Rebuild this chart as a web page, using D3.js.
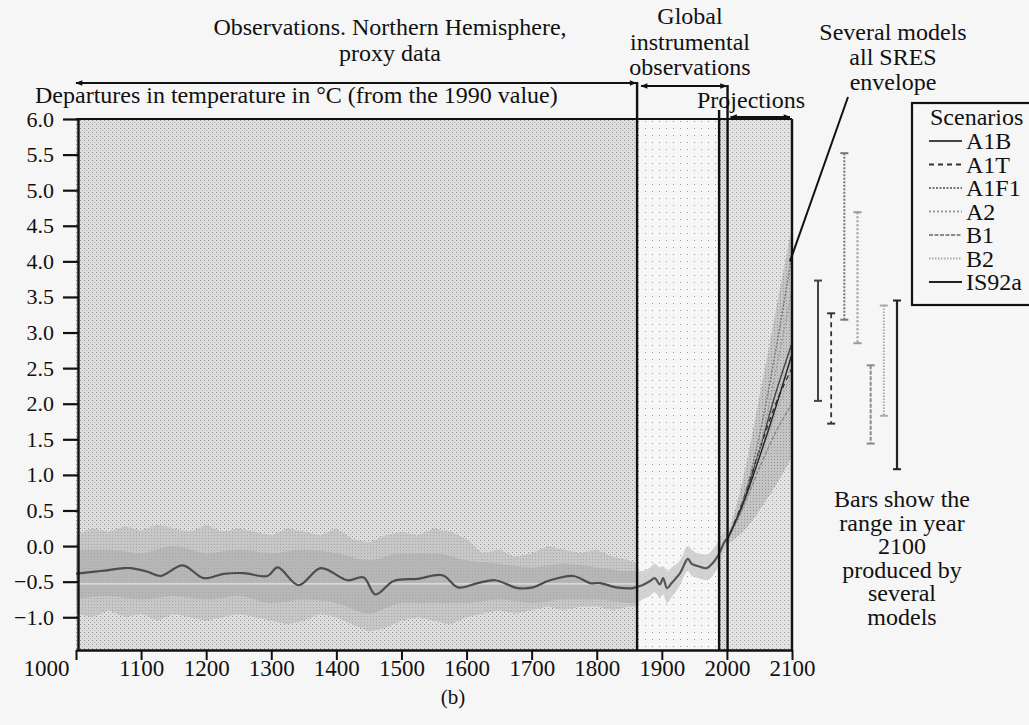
<!DOCTYPE html>
<html><head><meta charset="utf-8">
<script src="https://cdn.jsdelivr.net/npm/d3@7"></script>
<style>
body{margin:0;background:#f6f6f6;}
svg{display:block;font-family:"Liberation Serif","Times New Roman",serif;}
</style></head><body>
<svg id="c" width="1029" height="725"></svg>
<script>
// ---------------- DATA ----------------
const xTicks = [1000,1100,1200,1300,1400,1500,1600,1700,1800,1900,2000,2100];
const yTicks = [-1.0,-0.5,0.0,0.5,1.0,1.5,2.0,2.5,3.0,3.5,4.0,4.5,5.0,5.5,6.0];

// smoothed proxy reconstruction (Northern Hemisphere)
const proxyYears  = [1000,1008,1038,1074,1084,1110,1130,1164,1196,1227,1258,1294,1310,1342,1376,1417,1442,1460,1488,1525,1563,1587,1617,1644,1678,1702,1725,1764,1790,1805,1830,1856,1862];
const proxyValues = [-0.39,-0.38,-0.35,-0.31,-0.31,-0.36,-0.42,-0.27,-0.45,-0.39,-0.38,-0.42,-0.30,-0.55,-0.31,-0.48,-0.44,-0.68,-0.49,-0.46,-0.41,-0.58,-0.52,-0.48,-0.59,-0.58,-0.49,-0.42,-0.52,-0.52,-0.58,-0.59,-0.57];

// proxy annual-variability / uncertainty envelope
const bandYears = [1000,1025,1050,1075,1100,1125,1150,1175,1200,1225,1250,1275,1300,1325,1350,1375,1400,1425,1450,1475,1500,1525,1550,1575,1600,1625,1650,1675,1700,1725,1750,1775,1800,1825,1850,1862];
const bandHi    = [0.15,0.25,0.2,0.28,0.22,0.3,0.25,0.2,0.3,0.2,0.25,0.2,0.15,0.25,0.2,0.15,0.25,0.1,0.05,0.15,0.2,0.15,0.25,0.2,0.1,-0.1,-0.05,-0.15,-0.1,0.0,-0.05,-0.1,-0.05,-0.15,-0.2,-0.25];
const bandLo    = [-0.95,-1.0,-0.9,-1.0,-0.95,-1.05,-0.95,-1.0,-1.05,-1.0,-0.95,-1.0,-1.05,-1.1,-1.05,-0.95,-1.0,-1.1,-1.2,-1.15,-1.05,-1.0,-1.05,-1.1,-1.0,-0.95,-0.9,-0.95,-0.9,-0.85,-0.9,-0.85,-0.85,-0.9,-0.85,-0.85];
const coreYears = [1000,1050,1100,1150,1200,1250,1300,1350,1400,1450,1500,1550,1600,1650,1700,1750,1800,1850,1862];
const coreHi    = [-0.05,-0.05,-0.1,0.0,-0.1,-0.05,-0.1,-0.05,-0.1,-0.2,-0.1,-0.1,-0.2,-0.25,-0.3,-0.25,-0.3,-0.35,-0.35];
const coreLo    = [-0.75,-0.7,-0.75,-0.7,-0.75,-0.7,-0.8,-0.75,-0.8,-0.95,-0.8,-0.8,-0.8,-0.75,-0.8,-0.75,-0.75,-0.8,-0.8];

// global instrumental observations
const instYears  = [1862,1870,1882,1889,1897,1902,1908,1915,1928,1940,1946,1955,1969,1978,1986,1997,2000];
const instValues = [-0.57,-0.55,-0.49,-0.45,-0.54,-0.45,-0.59,-0.52,-0.38,-0.18,-0.25,-0.28,-0.31,-0.24,-0.14,0.07,0.1];
const instHi     = [-0.35,-0.35,-0.3,-0.25,-0.3,-0.28,-0.35,-0.3,-0.2,0.0,-0.05,-0.1,-0.12,-0.05,0.05,0.2,0.22];
const instLo     = [-0.8,-0.75,-0.7,-0.65,-0.72,-0.68,-0.8,-0.72,-0.55,-0.35,-0.42,-0.45,-0.48,-0.42,-0.3,-0.05,0.0];

// projections
const projYears = [2000,2025,2050,2075,2100];
const envHi     = [0.12,0.95,2.1,3.3,4.5];
const envLo     = [0.02,0.2,0.5,0.85,1.25];
const scenarios = ["A1B","A1T","A1F1","A2","B1","B2","IS92a"];
const projA1B   = [0.08,0.62,1.35,2.15,2.85];
const projA1T   = [0.08,0.65,1.35,2.0,2.5];
const projA1F1  = [0.08,0.65,1.55,2.75,4.1];
const projA2    = [0.08,0.55,1.35,2.45,3.6];
const projB1    = [0.08,0.55,1.1,1.6,2.0];
const projB2    = [0.08,0.6,1.2,1.85,2.45];
const projIS92a = [0.08,0.6,1.25,1.95,2.7];
const rangeLo   = [2.04,1.72,3.18,2.85,1.44,1.83,1.08];
const rangeHi   = [3.73,3.27,5.52,4.69,2.54,3.38,3.45];

// period boundaries (years)
const periodBounds = [1862,1988,2001];

// ---------------- STYLES ----------------
const scenStyle = {
  "A1B":  {stroke:"#444", dash:null,  w:2},
  "A1T":  {stroke:"#333", dash:"5,4", w:1.8},
  "A1F1": {stroke:"#777", dash:"2,1.5", w:2},
  "A2":   {stroke:"#999", dash:"2,2", w:2},
  "B1":   {stroke:"#8a8a8a", dash:"4,1.5", w:2},
  "B2":   {stroke:"#aaa", dash:"1.5,1.5", w:2},
  "IS92a":{stroke:"#222", dash:null,  w:2.2}
};
const projSeries = {A1B:projA1B,A1T:projA1T,A1F1:projA1F1,A2:projA2,B1:projB1,B2:projB2,IS92a:projIS92a};

// ---------------- SCALES ----------------
const svg = d3.select("#c");
const x = d3.scaleLinear().domain([1000,2100]).range([76,792]);
const y = d3.scaleLinear().domain([-1.46,6.0]).range([650,119]);
const xb = d3.scalePoint().domain(scenarios).range([818,897]);
const FS = 24;
const INK = "#111";

// ---------------- PATTERNS ----------------
const defs = svg.append("defs");
function pat(id,size,bg,dots){
  const p = defs.append("pattern").attr("id",id).attr("width",size).attr("height",size).attr("patternUnits","userSpaceOnUse");
  p.append("rect").attr("width",size).attr("height",size).attr("fill",bg);
  dots.forEach(d=>p.append("rect").attr("x",d[0]).attr("y",d[1]).attr("width",1).attr("height",1).attr("fill",d[2]));
}
pat("stip",4,"#dedede",[[0,0,"#8c8c8c"],[2,2,"#a8a8a8"]]);
pat("stipL",4,"#e3e3e3",[[0,0,"#9a9a9a"],[2,2,"#c4c4c4"]]);
pat("sparse",7,"#f7f7f7",[[1,2,"#9a9a9a"]]);
pat("env",3,"#c2c2c2",[[0,0,"#8e8e8e"]]);
pat("bandP",3,"#c4c4c4",[[1,1,"#a0a0a0"]]);

// ---------------- BACKGROUND REGIONS ----------------
const yTop = y(6.0), yBot = y.range()[0];
svg.append("rect").attr("x",x(1000)).attr("y",yTop).attr("width",x(periodBounds[0])-x(1000)).attr("height",yBot-yTop).attr("fill","url(#stip)");
svg.append("rect").attr("x",x(periodBounds[0])).attr("y",yTop).attr("width",x(periodBounds[1])-x(periodBounds[0])).attr("height",yBot-yTop).attr("fill","url(#sparse)");
svg.append("rect").attr("x",x(periodBounds[1])).attr("y",yTop).attr("width",x(periodBounds[2])-x(periodBounds[1])).attr("height",yBot-yTop).attr("fill","url(#stip)");
svg.append("rect").attr("x",x(periodBounds[2])).attr("y",yTop).attr("width",x(2100)-x(periodBounds[2])).attr("height",yBot-yTop).attr("fill","url(#stipL)");

// ---------------- PROXY BANDS ----------------
svg.append("path").datum(bandYears.map((yr,i)=>[yr,bandHi[i],bandLo[i]]))
  .attr("d",d3.area().x(d=>x(d[0])).y0(d=>y(d[2])).y1(d=>y(d[1])))
  .attr("fill","url(#bandP)").attr("opacity",0.85);
svg.append("path").datum(coreYears.map((yr,i)=>[yr,coreHi[i],coreLo[i]]))
  .attr("d",d3.area().x(d=>x(d[0])).y0(d=>y(d[2])).y1(d=>y(d[1])).curve(d3.curveMonotoneX)).attr("fill","#a9a9a9").attr("opacity",0.55);
// thin light streak across the band
svg.append("line").attr("x1",x(1000)).attr("x2",x(periodBounds[0])).attr("y1",y(-0.53)).attr("y2",y(-0.53))
  .attr("stroke","#f2f2f2").attr("stroke-width",1.2).attr("opacity",0.8);

// instrumental band
svg.append("path").datum(instYears.map((yr,i)=>[yr,instHi[i],instLo[i]]))
  .attr("d",d3.area().x(d=>x(d[0])).y0(d=>y(d[2])).y1(d=>y(d[1])).curve(d3.curveMonotoneX)).attr("fill","#c6c6c6").attr("opacity",0.75);

// projection envelope
svg.append("path").datum(projYears.map((yr,i)=>[yr,envHi[i],envLo[i]]))
  .attr("d",d3.area().x(d=>x(d[0])).y0(d=>y(d[2])).y1(d=>y(d[1])).curve(d3.curveMonotoneX)).attr("fill","url(#env)").attr("opacity",0.9);

// ---------------- LINES ----------------
const line = d3.line().x(d=>x(d[0])).y(d=>y(d[1])).curve(d3.curveCatmullRom);
svg.append("path").datum(proxyYears.map((yr,i)=>[yr,proxyValues[i]])).attr("d",line)
  .attr("fill","none").attr("stroke","#4d4d4d").attr("stroke-width",2.2);
svg.append("path").datum(instYears.map((yr,i)=>[yr,instValues[i]])).attr("d",line)
  .attr("fill","none").attr("stroke","#555").attr("stroke-width",2.2);
scenarios.forEach(s=>{
  const st = scenStyle[s];
  svg.append("path").datum(projYears.map((yr,i)=>[yr,projSeries[s][i]]))
    .attr("d",d3.line().x(d=>x(d[0])).y(d=>y(d[1])).curve(d3.curveMonotoneX))
    .attr("fill","none").attr("stroke",st.stroke).attr("stroke-width",1.4)
    .attr("stroke-dasharray",st.dash);
});

// ---------------- PERIOD DIVIDERS ----------------
const divTops = [82,110,85];
periodBounds.forEach((b,i)=>{
  svg.append("line").attr("x1",x(b)).attr("x2",x(b)).attr("y1",divTops[i]).attr("y2",yBot)
    .attr("stroke",INK).attr("stroke-width",2.4);
});

// ---------------- FRAME & AXES ----------------
svg.append("line").attr("x1",x(1000)).attr("x2",x(2100)).attr("y1",yTop).attr("y2",yTop).attr("stroke",INK).attr("stroke-width",2.2);
svg.append("line").attr("x1",x(2100)).attr("x2",x(2100)).attr("y1",yTop).attr("y2",yBot).attr("stroke",INK).attr("stroke-width",2.4);

const gy = svg.append("g").attr("transform",`translate(${x(1000)+2},0)`)
  .call(d3.axisLeft(y).tickValues(yTicks).tickSize(15).tickSizeOuter(0).tickPadding(9)
    .tickFormat(d=> (d<0?"\u2212":"") + Math.abs(d).toFixed(1)));
gy.select(".domain").attr("stroke",INK).attr("stroke-width",2.4);
gy.selectAll(".tick line").attr("stroke",INK).attr("stroke-width",2.2);
gy.selectAll("text").attr("font-size",22).attr("fill",INK).attr("font-family","Liberation Serif");

const gx = svg.append("g").attr("transform",`translate(0,${yBot})`)
  .call(d3.axisBottom(x).tickValues(xTicks).tickSize(10).tickSizeOuter(0).tickPadding(0).tickFormat(d3.format("d")));
gx.select(".domain").attr("stroke",INK).attr("stroke-width",2.4);
gx.selectAll(".tick line").attr("stroke",INK).attr("stroke-width",2);
gx.selectAll("text").attr("font-size",23).attr("fill",INK).attr("font-family","Liberation Serif");
gx.selectAll(".tick text").filter(d=>d===1000).attr("dx",-30);

// ---------------- ARROWS ----------------
const mk = defs.append("marker").attr("id","ah").attr("viewBox","0 0 10 10").attr("refX",9).attr("refY",5)
  .attr("markerWidth",9).attr("markerHeight",7).attr("orient","auto-start-reverse").attr("markerUnits","userSpaceOnUse");
mk.append("path").attr("d","M0,1 L10,5 L0,9 Z").attr("fill",INK);
function arrow(x1,x2,yy){
  svg.append("line").attr("x1",x1).attr("x2",x2).attr("y1",yy).attr("y2",yy)
    .attr("stroke",INK).attr("stroke-width",1.8)
    .attr("marker-start","url(#ah)").attr("marker-end","url(#ah)");
}
arrow(x(1000),x(periodBounds[0])-1,83);
arrow(x(periodBounds[0])+4,x(periodBounds[2])-1,86);
arrow(x(periodBounds[2])+3,x(2100)-2,117);

// ---------------- TEXT ----------------
function txt(t,xx,yy,anchor,size){
  return svg.append("text").attr("x",xx).attr("y",yy).attr("text-anchor",anchor||"middle")
    .attr("font-size",size||FS).attr("fill",INK).text(t);
}
txt("Observations. Northern Hemisphere,",390,35);
txt("proxy data",390,61);
txt("Departures in temperature in \u00B0C (from the 1990 value)",35,103,"start");
txt("Global",690,24);
txt("instrumental",690,50);
txt("observations",690,75);
txt("Projections",697,108,"start");
txt("Several models",893,40);
txt("all SRES",893,65);
txt("envelope",893,90);
["Bars show the","range in year","2100","produced by","several","models"].forEach((t,i)=>txt(t,902,507+i*23.5));
txt("(b)",453,704,"middle",21);

// pointer to envelope
svg.append("line").attr("x1",848).attr("y1",97).attr("x2",x(2100)-2).attr("y2",y(4.0))
  .attr("stroke",INK).attr("stroke-width",2);

// ---------------- RANGE BARS ----------------
scenarios.forEach((s,i)=>{
  const st = scenStyle[s], bx = xb(s);
  const g = svg.append("g");
  g.append("line").attr("x1",bx).attr("x2",bx).attr("y1",y(rangeHi[i])).attr("y2",y(rangeLo[i]))
    .attr("stroke",st.stroke).attr("stroke-width",st.w).attr("stroke-dasharray",st.dash);
  [rangeHi[i],rangeLo[i]].forEach(v=>g.append("line").attr("x1",bx-4).attr("x2",bx+4).attr("y1",y(v)).attr("y2",y(v))
    .attr("stroke",st.stroke).attr("stroke-width",2));
});

// ---------------- LEGEND ----------------
const lg = svg.append("g");
lg.append("rect").attr("x",912).attr("y",103).attr("width",160).attr("height",202)
  .attr("fill","#f6f6f6").attr("stroke",INK).attr("stroke-width",2.2);
lg.append("text").attr("x",930).attr("y",125).attr("font-size",FS).attr("fill",INK).text("Scenarios");
scenarios.forEach((s,i)=>{
  const st = scenStyle[s], yy = 141 + i*23.5;
  lg.append("line").attr("x1",929).attr("x2",962).attr("y1",yy).attr("y2",yy)
    .attr("stroke",st.stroke).attr("stroke-width",st.w).attr("stroke-dasharray",st.dash);
  lg.append("text").attr("x",966).attr("y",yy+8).attr("font-size",FS).attr("fill",INK).text(s);
});
</script>
</body></html>
